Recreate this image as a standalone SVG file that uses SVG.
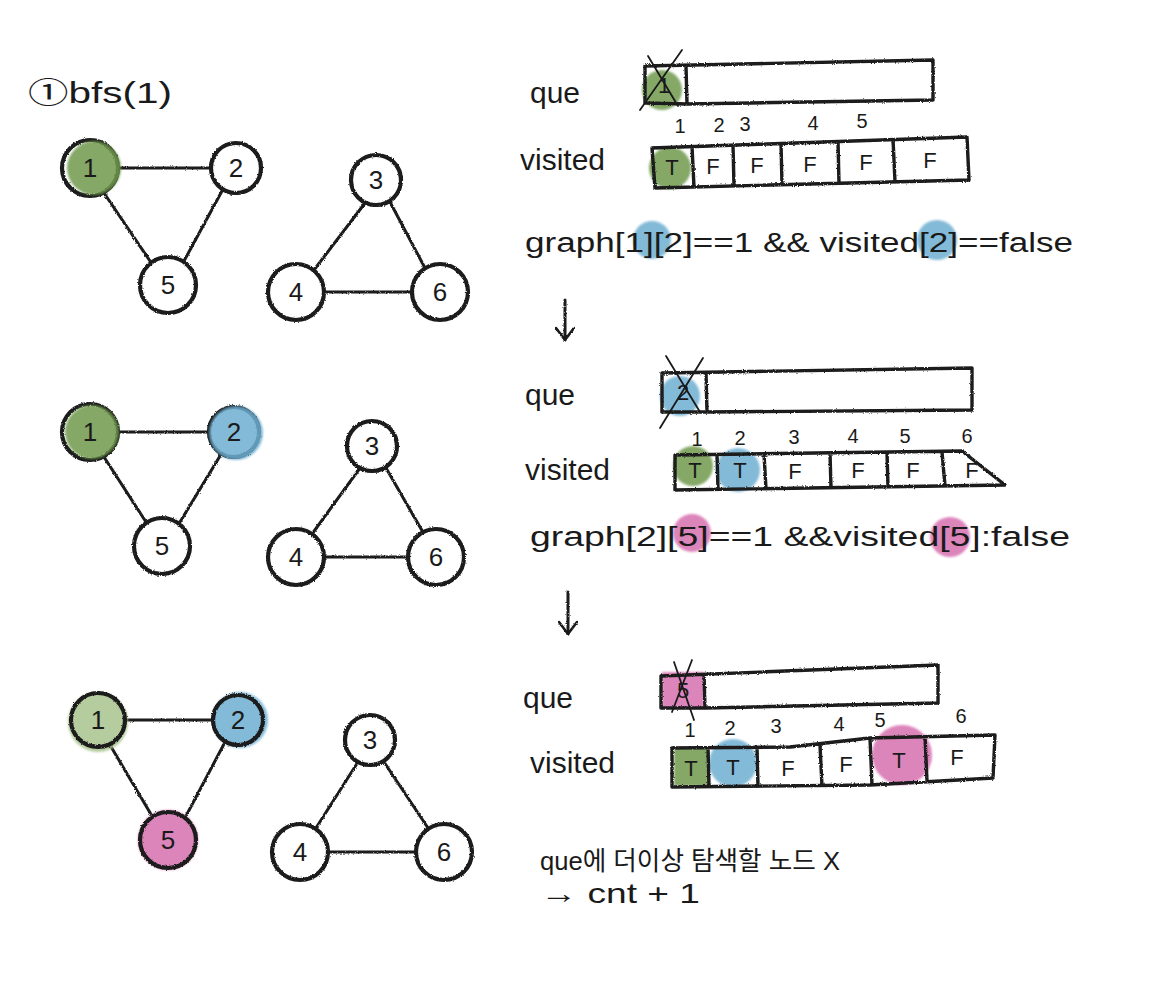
<svg xmlns="http://www.w3.org/2000/svg" width="1157" height="1000" viewBox="0 0 1157 1000">
<defs>
<filter id="rough" x="-5%" y="-5%" width="110%" height="110%">
<feTurbulence type="fractalNoise" baseFrequency="0.9" numOctaves="2" seed="3" result="n"/>
<feDisplacementMap in="SourceGraphic" in2="n" scale="2.5" xChannelSelector="R" yChannelSelector="G"/>
</filter>
<filter id="soft" x="-20%" y="-20%" width="140%" height="140%">
<feGaussianBlur stdDeviation="1.2"/>
</filter>
<marker id="arr" viewBox="0 0 20 20" refX="18" refY="10" markerWidth="20" markerHeight="20" markerUnits="userSpaceOnUse" orient="auto">
<path d="M6,1 L18,10 L6,19" fill="none" stroke="#1a1a1a" stroke-width="2.6" stroke-linecap="round" stroke-linejoin="round"/>
</marker>
<style>
.bg{fill:#ffffff}
.node{fill:#ffffff;stroke:#1a1a1a;stroke-width:4.2}
.green{fill:#6f9a4e}
.lgreen{fill:#a7c48e}
.blue{fill:#6eafd1}
.pink{fill:#d770b0}
.edge{stroke:#1a1a1a;stroke-width:3;fill:none;stroke-linecap:round}
.box{fill:none;stroke:#1a1a1a;stroke-width:3.4;stroke-linejoin:round}
.hl{opacity:0.85}
.nlab{font-family:"Liberation Sans",sans-serif;font-size:26px;fill:#1a1a1a;text-anchor:middle;dominant-baseline:central}
.hand{font-family:"Liberation Sans","Noto Sans CJK KR",sans-serif;fill:#1a1a1a}
.cell{font-family:"Liberation Sans",sans-serif;font-size:22px;fill:#1a1a1a;text-anchor:middle;dominant-baseline:central}
.idx{font-family:"Liberation Sans",sans-serif;font-size:20px;fill:#1a1a1a;text-anchor:middle}
.cross{stroke:#1a1a1a;stroke-width:1.8;fill:none;stroke-linecap:round}
</style>
</defs>
<rect class="bg" x="0" y="0" width="1157" height="1000"/>

<text class="hand" x="28" y="103" font-size="30" textLength="144" lengthAdjust="spacingAndGlyphs">①bfs(1)</text>

<!-- connectors -->
<g id="connectors" filter="url(#rough)">
<!-- stage 1 -->
<line class="edge" x1="118" y1="168" x2="211" y2="168"/>
<line class="edge" x1="104" y1="193" x2="150" y2="261"/>
<line class="edge" x1="222" y1="191" x2="184" y2="261"/>
<line class="edge" x1="365" y1="203" x2="314" y2="270"/>
<line class="edge" x1="390" y1="202" x2="425" y2="268"/>
<line class="edge" x1="324" y1="292" x2="412" y2="292"/>
<!-- stage 2 -->
<line class="edge" x1="118" y1="432" x2="208" y2="432"/>
<line class="edge" x1="104" y1="457" x2="146" y2="522"/>
<line class="edge" x1="220" y1="456" x2="180" y2="522"/>
<line class="edge" x1="360" y1="468" x2="312" y2="534"/>
<line class="edge" x1="386" y1="468" x2="424" y2="534"/>
<line class="edge" x1="324" y1="557" x2="408" y2="557"/>
<!-- stage 3 -->
<line class="edge" x1="126" y1="720" x2="212" y2="720"/>
<line class="edge" x1="110" y1="745" x2="152" y2="816"/>
<line class="edge" x1="224" y1="744" x2="186" y2="816"/>
<line class="edge" x1="358" y1="762" x2="316" y2="828"/>
<line class="edge" x1="384" y1="762" x2="428" y2="828"/>
<line class="edge" x1="328" y1="852" x2="416" y2="852"/>
<!-- step arrows -->
<line class="edge" x1="565" y1="300" x2="565" y2="340" marker-end="url(#arr)"/>
<line class="edge" x1="568" y1="592" x2="568" y2="634" marker-end="url(#arr)"/>
</g>

<!-- stage 1 nodes -->
<g id="s1-n1"><circle class="node" cx="90" cy="168" r="28" filter="url(#rough)"/><circle class="green hl" cx="94" cy="168" r="27" filter="url(#soft)"/><text class="nlab" x="90" y="168">1</text></g>
<g id="s1-n2"><circle class="node" cx="236" cy="168" r="25" filter="url(#rough)"/><text class="nlab" x="236" y="168">2</text></g>
<g id="s1-n5"><circle class="node" cx="168" cy="285" r="28" filter="url(#rough)"/><text class="nlab" x="168" y="285">5</text></g>
<g id="s1-n3"><circle class="node" cx="376" cy="180" r="25" filter="url(#rough)"/><text class="nlab" x="376" y="180">3</text></g>
<g id="s1-n4"><circle class="node" cx="296" cy="292" r="28" filter="url(#rough)"/><text class="nlab" x="296" y="292">4</text></g>
<g id="s1-n6"><circle class="node" cx="440" cy="292" r="28" filter="url(#rough)"/><text class="nlab" x="440" y="292">6</text></g>

<!-- stage 2 nodes -->
<g id="s2-n1"><circle class="node" cx="90" cy="432" r="28" filter="url(#rough)"/><circle class="green hl" cx="92" cy="432" r="27" filter="url(#soft)"/><text class="nlab" x="90" y="432">1</text></g>
<g id="s2-n2"><circle class="node" cx="234" cy="432" r="25" filter="url(#rough)"/><circle class="blue hl" cx="236" cy="433" r="27" filter="url(#soft)"/><text class="nlab" x="234" y="432">2</text></g>
<g id="s2-n5"><circle class="node" cx="162" cy="546" r="28" filter="url(#rough)"/><text class="nlab" x="162" y="546">5</text></g>
<g id="s2-n3"><circle class="node" cx="372" cy="446" r="25" filter="url(#rough)"/><text class="nlab" x="372" y="446">3</text></g>
<g id="s2-n4"><circle class="node" cx="296" cy="557" r="28" filter="url(#rough)"/><text class="nlab" x="296" y="557">4</text></g>
<g id="s2-n6"><circle class="node" cx="436" cy="557" r="28" filter="url(#rough)"/><text class="nlab" x="436" y="557">6</text></g>

<!-- stage 3 nodes -->
<g id="s3-n1"><circle class="lgreen hl" cx="98" cy="722" r="30" filter="url(#soft)"/><circle class="node" cx="98" cy="720" r="27" fill-opacity="0" filter="url(#rough)"/><text class="nlab" x="98" y="720">1</text></g>
<g id="s3-n2"><circle class="blue hl" cx="240" cy="720" r="28" filter="url(#soft)"/><circle class="node" cx="238" cy="720" r="25" fill-opacity="0" filter="url(#rough)"/><text class="nlab" x="238" y="720">2</text></g>
<g id="s3-n5"><circle class="pink hl" cx="168" cy="840" r="30" filter="url(#soft)"/><circle class="node" cx="168" cy="840" r="28" fill-opacity="0" filter="url(#rough)"/><text class="nlab" x="168" y="840">5</text></g>
<g id="s3-n3"><circle class="node" cx="370" cy="740" r="25" filter="url(#rough)"/><text class="nlab" x="370" y="740">3</text></g>
<g id="s3-n4"><circle class="node" cx="300" cy="852" r="28" filter="url(#rough)"/><text class="nlab" x="300" y="852">4</text></g>
<g id="s3-n6"><circle class="node" cx="444" cy="852" r="28" filter="url(#rough)"/><text class="nlab" x="444" y="852">6</text></g>

<!-- stage 1 right -->
<g id="s1-que">
<text class="hand" x="530" y="103" font-size="30">que</text>
<circle class="green hl" cx="662" cy="90" r="20" filter="url(#soft)"/>
<path class="box" d="M645,66 L933,60 L933,100 L687,104 L645,103 Z M686,66 L687,104" filter="url(#rough)"/>
<text class="cell" x="664" y="85" font-size="20">1</text>
<path class="cross" d="M648,56 L678,106 M682,50 L640,110"/>
</g>
<g id="s1-visited">
<text class="hand" x="520" y="170" font-size="30">visited</text>
<circle class="green hl" cx="670" cy="168" r="21" filter="url(#soft)"/>
<path class="box" d="M652,148 L967,137 L969,180 L655,188 Z M692,146 L694,187 M733,145 L734,186 M781,143 L782,185 M838,141 L839,184 M893,139 L895,182" filter="url(#rough)"/>
<text class="idx" x="680" y="133">1</text><text class="idx" x="719" y="132">2</text><text class="idx" x="745" y="131">3</text><text class="idx" x="813" y="130">4</text><text class="idx" x="862" y="128">5</text>
<text class="cell" x="672" y="167">T</text><text class="cell" x="713" y="166">F</text><text class="cell" x="757" y="165">F</text><text class="cell" x="810" y="164">F</text><text class="cell" x="866" y="162">F</text><text class="cell" x="930" y="160">F</text>
</g>
<g id="s1-cond">
<circle class="blue hl" cx="652" cy="240" r="19" filter="url(#soft)"/>
<circle class="blue hl" cx="937" cy="240" r="20" filter="url(#soft)"/>
<text class="hand" x="525" y="252" font-size="27" textLength="548" lengthAdjust="spacingAndGlyphs">graph[1][2]==1 &amp;&amp; visited[2]==false</text>
</g>

<!-- stage 2 right -->
<g id="s2-que">
<text class="hand" x="525" y="405" font-size="30">que</text>
<circle class="blue hl" cx="680" cy="396" r="20" filter="url(#soft)"/>
<path class="box" d="M662,373 L972,368 L972,410 L707,412 L662,412 Z M706,373 L707,412" filter="url(#rough)"/>
<text class="cell" x="683" y="392" font-size="20">2</text>
<path class="cross" d="M666,356 L700,412 M703,358 L660,428"/>
</g>
<g id="s2-visited">
<text class="hand" x="525" y="480" font-size="30">visited</text>
<circle class="green hl" cx="693" cy="466" r="20" filter="url(#soft)"/>
<circle class="blue hl" cx="738" cy="470" r="22" filter="url(#soft)"/>
<path class="box" d="M675,455 L962,451 L1005,485 L675,490 Z M717,455 L718,489 M764,454 L766,489 M830,453 L831,488 M887,452 L888,487 M942,452 L945,486" filter="url(#rough)"/>
<text class="idx" x="697" y="446">1</text><text class="idx" x="740" y="445">2</text><text class="idx" x="794" y="444">3</text><text class="idx" x="853" y="443">4</text><text class="idx" x="905" y="443">5</text><text class="idx" x="967" y="443">6</text>
<text class="cell" x="695" y="470">T</text><text class="cell" x="740" y="470">T</text><text class="cell" x="795" y="471">F</text><text class="cell" x="858" y="470">F</text><text class="cell" x="913" y="470">F</text><text class="cell" x="972" y="470">F</text>
</g>
<g id="s2-cond">
<circle class="pink hl" cx="692" cy="533" r="19" filter="url(#soft)"/>
<circle class="pink hl" cx="950" cy="537" r="20" filter="url(#soft)"/>
<text class="hand" x="530" y="546" font-size="27" textLength="540" lengthAdjust="spacingAndGlyphs">graph[2][5]==1 &amp;&amp;visited[5]:false</text>
</g>

<!-- stage 3 right -->
<g id="s3-que">
<text class="hand" x="523" y="708" font-size="30">que</text>
<rect class="pink" x="662" y="672" width="42" height="36" opacity="0.85" filter="url(#soft)"/>
<path class="box" d="M661,676 L938,665 L938,703 L705,708 L661,708 Z M704,674 L705,708" filter="url(#rough)"/>
<text class="cell" x="683" y="690" font-size="20">5</text>
<path class="cross" d="M674,662 L694,720 M692,660 L672,712"/>
</g>
<g id="s3-visited">
<text class="hand" x="530" y="773" font-size="30">visited</text>
<rect class="green" x="674" y="748" width="34" height="38" opacity="0.85" filter="url(#soft)"/>
<circle class="blue hl" cx="733" cy="763" r="24" filter="url(#soft)"/>
<circle class="pink hl" cx="902" cy="755" r="30" filter="url(#soft)"/>
<path class="box" d="M672,748 L790,747 L870,738 L995,735 L993,778 L870,785 L672,787 Z M708,748 L709,787 M757,748 L758,786 M820,745 L822,786 M870,738 L872,785 M925,736 L927,781" filter="url(#rough)"/>
<text class="idx" x="690" y="737">1</text><text class="idx" x="730" y="735">2</text><text class="idx" x="776" y="733">3</text><text class="idx" x="839" y="731">4</text><text class="idx" x="880" y="727">5</text><text class="idx" x="961" y="723">6</text>
<text class="cell" x="691" y="768">T</text><text class="cell" x="733" y="767">T</text><text class="cell" x="788" y="768">F</text><text class="cell" x="846" y="764">F</text><text class="cell" x="899" y="760">T</text><text class="cell" x="957" y="757">F</text>
</g>
<g id="s3-note">
<text class="hand" x="540" y="870" font-size="26" textLength="300" lengthAdjust="spacingAndGlyphs">que에 더이상 탐색할 노드 X</text>
<text class="hand" x="540" y="903" font-size="28" textLength="160" lengthAdjust="spacingAndGlyphs">→ cnt + 1</text>
</g>
</svg>
